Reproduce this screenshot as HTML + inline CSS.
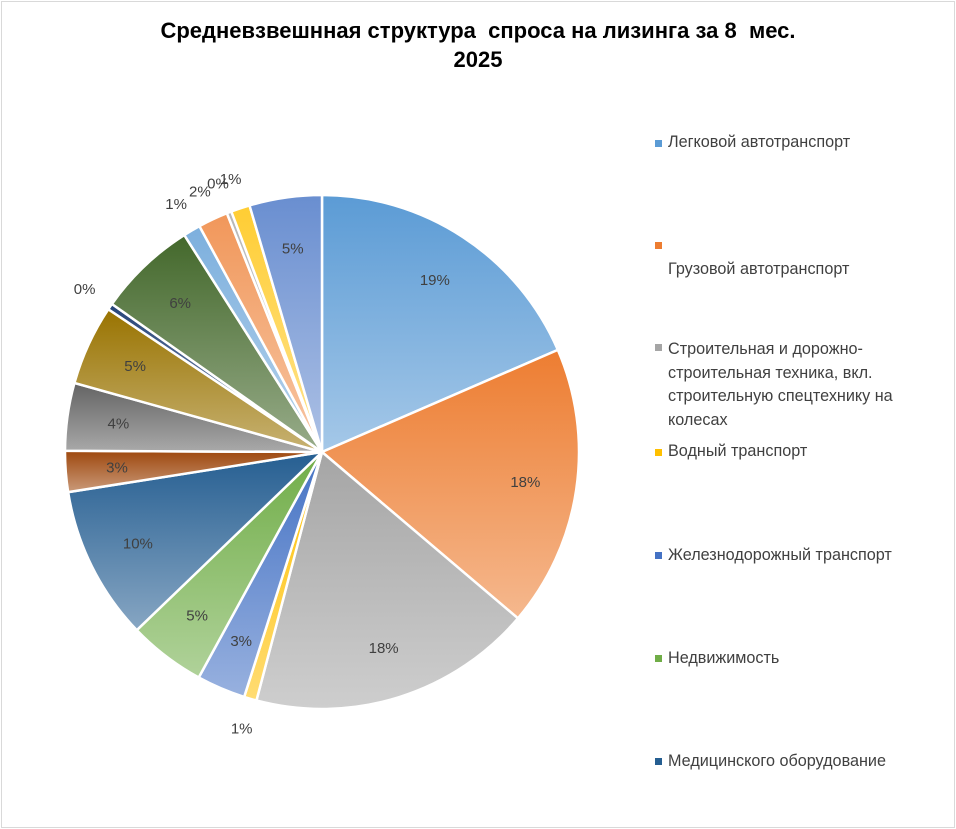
<!DOCTYPE html>
<html><head><meta charset="utf-8">
<style>
body{margin:0;background:#fff;}
#wrap{position:relative;width:956px;height:829px;background:#fff;font-family:"Liberation Sans",sans-serif;overflow:hidden;}
#frame{position:absolute;left:1px;top:1px;width:952px;height:825px;border:1px solid #d9d9d9;}
#title{position:absolute;left:0;top:16px;width:956px;text-align:center;font-weight:bold;font-size:22px;line-height:29px;color:#000;}
.leg{position:absolute;left:668px;font-size:16.2px;color:#404040;line-height:23.5px;width:265px;}
.mk{position:absolute;left:655px;width:7px;height:7px;}
</style></head><body>
<div id="wrap">
<div id="frame"></div>
<div id="title">Средневзвешнная структура&nbsp; спроса на лизинга за 8&nbsp; мес.<br>2025</div>
<svg id="pie" width="956" height="829" style="position:absolute;left:0;top:0"></svg>
<div class="mk" style="top:140px;background:#5B9BD5"></div>
<div class="leg" style="top:131px">Легковой автотранспорт</div>
<div class="mk" style="top:242px;background:#ED7D31"></div>
<div class="leg" style="top:258px">Грузовой автотранспорт</div>
<div class="mk" style="top:344px;background:#A5A5A5"></div>
<div class="leg" style="top:338px">Строительная и дорожно-строительная техника, вкл. строительную спецтехнику на колесах</div>
<div class="mk" style="top:449px;background:#FFC000"></div>
<div class="leg" style="top:440px">Водный транспорт</div>
<div class="mk" style="top:552px;background:#4472C4"></div>
<div class="leg" style="top:544px">Железнодорожный транспорт</div>
<div class="mk" style="top:655px;background:#70AD47"></div>
<div class="leg" style="top:647px">Недвижимость</div>
<div class="mk" style="top:758px;background:#255E91"></div>
<div class="leg" style="top:750px">Медицинского оборудование</div>
</div>
<script>
const categories=["Легковой","Грузовой","Строительная","Водный","Железнодорожный","Недвижимость","Медицинское","Кат8","Кат9","Кат10","Кат11","Кат12","Кат13","Кат14","Кат15","Кат16","Кат17"];
const values=[18.7,17.9,18.1,0.8,3.1,4.9,9.8,2.6,4.3,5.1,0.4,6.3,1.1,1.9,0.3,1.2,4.6];
const labels=["19%","18%","18%","1%","3%","5%","10%","3%","4%","5%","0%","6%","1%","2%","0%","1%","5%"];
const colors=["#5B9BD5","#ED7D31","#A5A5A5","#FFC000","#4472C4","#70AD47","#255E91","#9E480E","#636363","#997300","#264478","#43682B","#7CAFDD","#F1975A","#B7B7B7","#FFCD33","#698ED0"];
const svg=document.getElementById('pie');
const NS="http://www.w3.org/2000/svg";
const cx=322,cy=452,R=257;
const total=values.reduce((a,b)=>a+b,0);
function pt(a,r){return [cx+r*Math.sin(a),cy-r*Math.cos(a)];}
function lighten(hex,f){const n=parseInt(hex.slice(1),16);let r=n>>16,g=(n>>8)&255,b=n&255;r=Math.round(r+(255-r)*f);g=Math.round(g+(255-g)*f);b=Math.round(b+(255-b)*f);return `rgb(${r},${g},${b})`;}
const defs=document.createElementNS(NS,'defs');svg.appendChild(defs);
let a0=0;
values.forEach((v,i)=>{
  const a1=a0+v/total*2*Math.PI;
  const g=document.createElementNS(NS,'linearGradient');
  g.setAttribute('id','g'+i);g.setAttribute('x1','0');g.setAttribute('y1','0');g.setAttribute('x2','0');g.setAttribute('y2','1');
  g.innerHTML=`<stop offset="0" stop-color="${colors[i]}"/><stop offset="1" stop-color="${lighten(colors[i],0.45)}"/>`;
  defs.appendChild(g);
  const p0=pt(a0,R),p1=pt(a1,R);
  const large=(a1-a0)>Math.PI?1:0;
  const path=document.createElementNS(NS,'path');
  path.setAttribute('d',`M${cx},${cy}L${p0[0]},${p0[1]}A${R},${R} 0 ${large} 1 ${p1[0]},${p1[1]}Z`);
  path.setAttribute('fill',`url(#g${i})`);path.setAttribute('stroke','#fff');path.setAttribute('stroke-width','2.5');
  
  
  svg.appendChild(path);
  const mid=(a0+a1)/2;
  const small=v<2.5;
  const lp=pt(mid,small?R*1.12:R*0.8);
  const t=document.createElementNS(NS,'text');
  t.setAttribute('x',lp[0]);t.setAttribute('y',lp[1]+5);t.setAttribute('text-anchor','middle');
  t.setAttribute('font-family','Liberation Sans, sans-serif');t.setAttribute('font-size','15');t.setAttribute('fill','#404040');
  t.textContent=labels[i];
  
  
  svg.appendChild(t);
  a0=a1;
});
</script>
</body></html>
